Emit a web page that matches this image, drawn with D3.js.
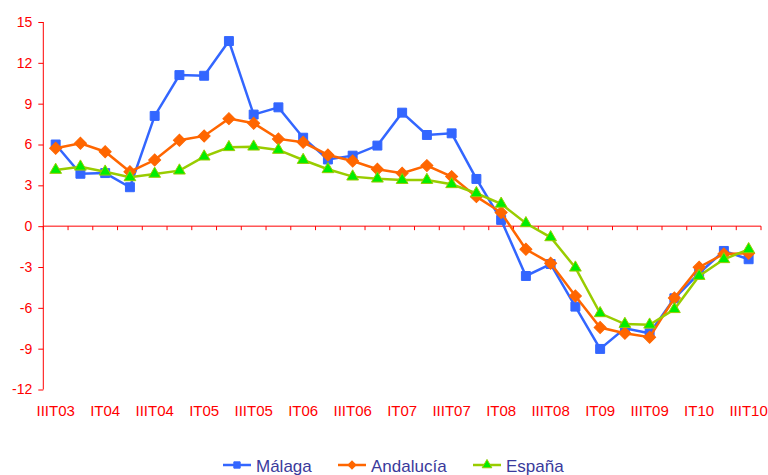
<!DOCTYPE html>
<html>
<head>
<meta charset="utf-8">
<script src="https://cdn.jsdelivr.net/npm/d3@7"></script>
<style>
  body { margin: 0; background: #fff; }
  svg { display: block; font-family: "Liberation Sans", Arial, sans-serif; }
</style>
</head>
<body>
<div id="chart"></div>
<script>
const quarters = ["IIIT03","IVT03","IT04","IIT04","IIIT04","IVT04","IT05","IIT05","IIIT05","IVT05",
  "IT06","IIT06","IIIT06","IVT06","IT07","IIT07","IIIT07","IVT07","IT08","IIT08","IIIT08","IVT08",
  "IT09","IIT09","IIIT09","IVT09","IT10","IIT10","IIIT10"];

const malaga = [6.0, 3.85, 3.9, 2.86, 8.1, 11.1, 11.05, 13.6, 8.2, 8.73, 6.5, 4.9, 5.18, 5.92, 8.34,
  6.7, 6.82, 3.47, 0.46, -3.66, -2.78, -5.91, -9.02, -7.5, -7.87, -5.3, -3.46, -1.82, -2.43];
const andalucia = [5.72, 6.09, 5.47, 4.0, 4.86, 6.31, 6.63, 7.9, 7.56, 6.41, 6.16, 5.23, 4.79, 4.18, 3.89,
  4.45, 3.64, 2.17, 1.0, -1.7, -2.73, -5.13, -7.45, -7.87, -8.16, -5.28, -3.02, -2.04, -1.99];
const espana = [4.13, 4.37, 4.0, 3.59, 3.84, 4.08, 5.11, 5.8, 5.84, 5.6, 4.86, 4.18, 3.64, 3.49, 3.39,
  3.39, 3.08, 2.42, 1.64, 0.21, -0.82, -3.05, -6.4, -7.19, -7.24, -6.1, -3.66, -2.43, -1.7];

const yTicks = [15, 12, 9, 6, 3, 0, -3, -6, -9, -12];

const series = [
  {name: "Málaga", values: malaga, line: "#3366ff", fill: "#3366ff", stroke: "#3366ff", marker: "square"},
  {name: "Andalucía", values: andalucia, line: "#ff6600", fill: "#ff6600", stroke: "#ff6600", marker: "diamond"},
  {name: "España", values: espana, line: "#99cc00", fill: "#00ee00", stroke: "#99cc00", marker: "triangle"}
];

const width = 768, height = 475;
const svg = d3.select("#chart").append("svg")
  .attr("width", width)
  .attr("height", height);

const plot = {left: 43.3, right: 761, top: 22, bottom: 389.5};
const red = "#ff0000";

const x = d3.scaleBand().domain(quarters).range([plot.left, plot.right]);
const y = d3.scaleLinear().domain([-12, 15]).range([plot.bottom, plot.top]);
const cx = d => x(d) + x.bandwidth() / 2;

// y axis
const yAxis = svg.append("g")
  .attr("transform", `translate(${plot.left},0)`)
  .call(d3.axisLeft(y).tickValues(yTicks).tickSize(5).tickPadding(6).tickFormat(d3.format("d")));
yAxis.select(".domain").attr("stroke", red).attr("d", `M0,${y(15)}V${y(-12)}`);
yAxis.selectAll(".tick line").attr("stroke", red);
yAxis.selectAll(".tick text").attr("fill", red).style("font-size", "14px")
  .text(d => d < 0 ? "-" + Math.abs(d) : d);

// x axis at zero, ticks between categories
const xg = svg.append("g").attr("transform", `translate(0,${y(0)})`);
xg.append("line").attr("x1", plot.left).attr("x2", plot.right).attr("stroke", red).attr("stroke-width", 1);
xg.selectAll("line.tk").data(quarters.concat(["_end"])).join("line")
  .attr("class", "tk")
  .attr("x1", (d, i) => i < quarters.length ? x(d) : plot.right)
  .attr("x2", (d, i) => i < quarters.length ? x(d) : plot.right)
  .attr("y1", 0).attr("y2", 4)
  .attr("stroke", red);

// x labels at bottom
svg.append("g").selectAll("text").data(quarters.filter((d, i) => i % 2 === 0)).join("text")
  .attr("x", d => cx(d))
  .attr("y", 416)
  .attr("text-anchor", "middle")
  .attr("fill", red)
  .style("font-size", "15px")
  .text(d => d);

const symbols = {
  square: d3.symbol().type(d3.symbolSquare).size(80),
  diamond: d3.symbol().type(d3.symbolSquare).size(72),
  triangle: d3.symbol().type(d3.symbolTriangle).size(60)
};
const legendSymbols = {
  square: d3.symbol().type(d3.symbolSquare).size(40),
  diamond: d3.symbol().type(d3.symbolSquare).size(32),
  triangle: d3.symbol().type(d3.symbolTriangle).size(40)
};

function drawMarker(g, s, set) {
  return g.append("path").attr("d", set[s.marker]())
    .attr("fill", s.fill).attr("stroke", s.stroke).attr("stroke-width", 1);
}

const line = d3.line().x((d, i) => cx(quarters[i])).y(d => y(d));

series.forEach(s => {
  svg.append("path").datum(s.values)
    .attr("d", line)
    .attr("fill", "none")
    .attr("stroke", s.line)
    .attr("stroke-width", 2.5);
  s.values.forEach((v, i) => {
    const g = svg.append("g").attr("transform", `translate(${cx(quarters[i])},${y(v)})${s.marker === "diamond" ? " rotate(45)" : ""}`);
    drawMarker(g, s, symbols);
  });
});

// legend
const legendX = [223, 338, 473];
const legend = svg.append("g");
series.forEach((s, i) => {
  const g = legend.append("g").attr("transform", `translate(${legendX[i]},465)`);
  g.append("line").attr("x1", 0).attr("x2", 28).attr("stroke", s.line).attr("stroke-width", 2.5);
  const m = g.append("g").attr("transform", `translate(14,0)${s.marker === "diamond" ? " rotate(45)" : ""}`);
  drawMarker(m, s, legendSymbols);
  g.append("text").attr("x", 33).attr("y", 6.5)
    .attr("fill", "#3a3a9c")
    .style("font-size", "17px")
    .text(s.name);
});
</script>
</body>
</html>
